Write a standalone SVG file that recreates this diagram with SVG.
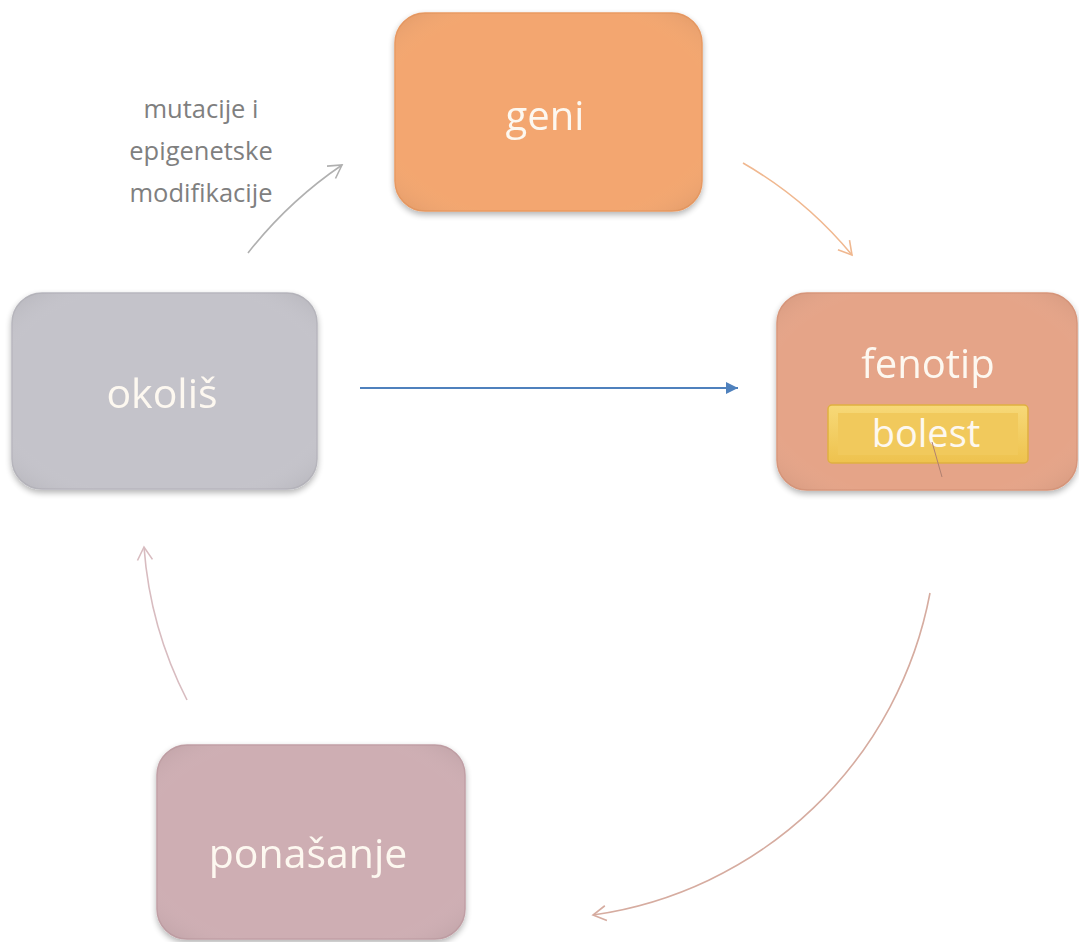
<svg xmlns="http://www.w3.org/2000/svg" width="1079" height="942" viewBox="0 0 1079 942">
<defs>
<style>
.box{stroke-width:1.5}
.t{font-family:"Open Sans","Noto Sans",sans-serif;fill:#fdf8f0;text-anchor:middle}
.lbl{font-family:"Open Sans","Noto Sans",sans-serif;fill:#7f7f7f;font-size:25.5px;text-anchor:middle}
.arc{fill:none;stroke-width:1.6}
</style>
<filter id="sh" x="-10%" y="-10%" width="120%" height="125%">
<feGaussianBlur in="SourceAlpha" stdDeviation="3"/>
<feOffset dx="0" dy="3" result="b"/>
<feComponentTransfer><feFuncA type="linear" slope="0.3"/></feComponentTransfer>
<feMerge><feMergeNode/><feMergeNode in="SourceGraphic"/></feMerge>
</filter>
<radialGradient id="hl" cx="0.5" cy="0.5" r="0.7"><stop offset="0.75" stop-color="#ffffff" stop-opacity="0"/><stop offset="1" stop-color="#000000" stop-opacity="0.08"/></radialGradient>
<marker id="mGray" markerUnits="userSpaceOnUse" markerWidth="18" markerHeight="18" refX="14" refY="9" orient="auto"><path d="M1,1.5 L14,9 L1,16.5" fill="none" stroke="#b0b0b0" stroke-width="1.6"/></marker>
<marker id="mOrange" markerUnits="userSpaceOnUse" markerWidth="18" markerHeight="18" refX="14" refY="9" orient="auto"><path d="M1,1.5 L14,9 L1,16.5" fill="none" stroke="#f0b890" stroke-width="1.6"/></marker>
<marker id="mBrown" markerUnits="userSpaceOnUse" markerWidth="18" markerHeight="18" refX="14" refY="9" orient="auto"><path d="M1,1.5 L14,9 L1,16.5" fill="none" stroke="#d6aca0" stroke-width="1.6"/></marker>
<marker id="mPink" markerUnits="userSpaceOnUse" markerWidth="18" markerHeight="18" refX="14" refY="9" orient="auto"><path d="M1,1.5 L14,9 L1,16.5" fill="none" stroke="#d8bcc0" stroke-width="1.6"/></marker>
<marker id="mBlue" markerUnits="userSpaceOnUse" markerWidth="14" markerHeight="12" refX="12" refY="6" orient="auto"><path d="M0,0 L12,6 L0,12 Z" fill="#4f81bd"/></marker>
<linearGradient id="gGold" x1="0" y1="0" x2="0" y2="1"><stop offset="0" stop-color="#f7d978"/><stop offset="1" stop-color="#eec24e"/></linearGradient>
</defs>
<rect width="1079" height="942" fill="#ffffff"/>
<g id="connectors">
<path class="arc" d="M248,253 A420,420 0 0 1 342,165" stroke="#b0b0b0" marker-end="url(#mGray)"/>
<path class="arc" d="M743,163 A400,400 0 0 1 852,255" stroke="#f0b890" marker-end="url(#mOrange)"/>
<path class="arc" d="M930,593 A400,400 0 0 1 593,915" stroke="#d6aca0" marker-end="url(#mBrown)"/>
<path class="arc" d="M187,700 A400,400 0 0 1 144,547" stroke="#d8bcc0" marker-end="url(#mPink)"/>
<line x1="360" y1="388" x2="738" y2="388" stroke="#4f81bd" stroke-width="2" marker-end="url(#mBlue)"/>
</g>
<g id="label">
<text class="lbl" x="201" y="118">mutacije i</text>
<text class="lbl" x="201" y="160">epigenetske</text>
<text class="lbl" x="201" y="202">modifikacije</text>
</g>
<g id="geni" filter="url(#sh)">
<rect class="box" x="395" y="13" width="307" height="198" rx="30" fill="#f3a66f" stroke="#ea9a62"/>
<rect x="395" y="13" width="307" height="198" rx="30" fill="url(#hl)"/>
<text class="t" x="545" y="130" font-size="40">geni</text>
</g>
<g id="fenotip" filter="url(#sh)">
<rect class="box" x="777" y="293" width="300" height="197" rx="30" fill="#e5a488" stroke="#da977b"/>
<rect x="777" y="293" width="300" height="197" rx="30" fill="url(#hl)"/>
<text class="t" x="928" y="378" font-size="40">fenotip</text>
</g>
<g id="bolest">
<rect x="828" y="405" width="200" height="58" rx="4" fill="url(#gGold)" stroke="#e0b040" stroke-width="1.5"/>
<rect x="838" y="413" width="180" height="42" fill="#f1c95c"/>
<text class="t" x="926" y="447" font-size="38">bolest</text>
<line x1="932" y1="442" x2="942" y2="477" stroke="#b08070" stroke-width="1"/>
</g>
<g id="okolis" filter="url(#sh)">
<rect class="box" x="12" y="293" width="305" height="196" rx="30" fill="#c4c3ca" stroke="#b8b7be"/>
<rect x="12" y="293" width="305" height="196" rx="30" fill="url(#hl)"/>
<text class="t" x="162" y="408" font-size="41">okoliš</text>
</g>
<g id="ponasanje" filter="url(#sh)">
<rect class="box" x="157" y="745" width="308" height="194" rx="30" fill="#ceaeb3" stroke="#c2a0a6"/>
<rect x="157" y="745" width="308" height="194" rx="30" fill="url(#hl)"/>
<text class="t" x="308" y="868" font-size="41">ponašanje</text>
</g>
</svg>
